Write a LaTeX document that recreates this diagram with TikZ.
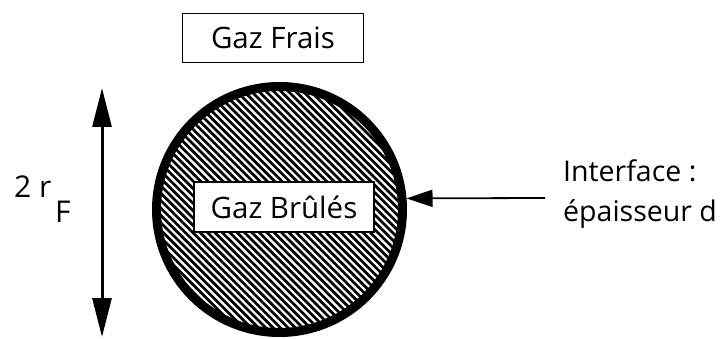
\documentclass[tikz,border=0pt]{standalone}
\usepackage{fontspec}
\setmainfont{Open Sans}
\usetikzlibrary{arrows.meta}
\begin{document}
\begin{tikzpicture}[x=1pt,y=1pt,
  lbl/.style={font=\fontsize{30}{33}\selectfont, inner sep=0pt},
  sidelbl/.style={font=\fontsize{28.5}{32}\selectfont, inner sep=0pt},
  gasbox/.style={draw, line width=1.5pt, fill=white, minimum width=180pt, minimum height=50pt, inner sep=0pt, font=\fontsize{29.5}{33}\selectfont},
  hatch/.style={line width=2.7pt},
  dimarrow/.style={line width=3pt, {Triangle[length=39pt,width=19pt]}-{Triangle[length=39pt,width=19pt]}},
  ptarrow/.style={line width=1.8pt, -{Triangle[length=26pt,width=17pt]}}]
\useasboundingbox (0,0) rectangle (724,338);
% hatching inside the flame ball
\begin{scope}
  \clip (279.5,128.5) circle (124pt);
  \foreach \i in {-140,-136.3,...,140}
    \draw[hatch] (279.5+\i-200,128.5+\i+200) -- (279.5+\i+200,128.5+\i-200);
\end{scope}
\node[draw, circle, line width=9pt, minimum size=246pt, inner sep=0pt] (circ) at (279.5,128.5) {};
\node[gasbox] (burnt) at (284,131) {Gaz Brûlés};
\node[gasbox, minimum width=181pt, minimum height=49pt] (fresh) at (273,300) {Gaz Frais};
% diameter arrow
\coordinate (top) at (102,250);
\coordinate (bot) at (102,1);
\draw[dimarrow] (bot) -- (top);
\node[lbl, anchor=base west] (two) at (14,140) {2 r};
\node[lbl, anchor=base west] (sub) at (55,115) {F};
% interface
\node[sidelbl, anchor=base west] (int1) at (563,156) {Interface :};
\node[sidelbl, anchor=base west] (int2) at (563,116) {épaisseur d};
\coordinate (tail) at (545,140);
\draw[ptarrow] (tail) -- (circ.5);
\end{tikzpicture}
\end{document}
